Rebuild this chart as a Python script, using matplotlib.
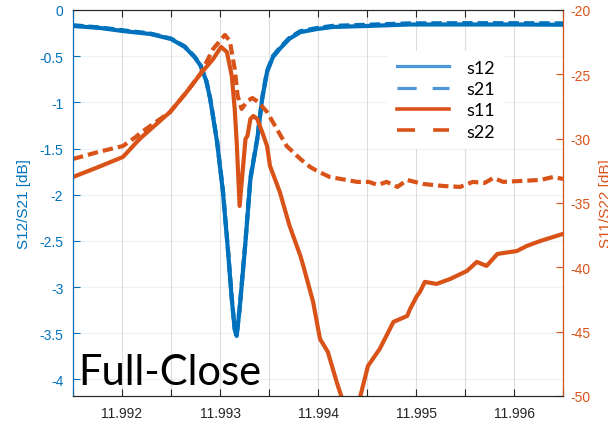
import numpy as np
import matplotlib
matplotlib.use('Agg')
import matplotlib.pyplot as plt
from matplotlib.lines import Line2D
from matplotlib.ticker import MultipleLocator, FuncFormatter

plt.rcParams['font.family'] = ['Liberation Sans', 'DejaVu Sans']
plt.rcParams['axes.unicode_minus'] = False

BLUE = '#0072BD'
ORANGE = '#D95319'
DARK = '#262626'

# transmission (left axis, dB)
f12 = [11.99150, 11.99178, 11.99201, 11.99229, 11.99250, 11.99264, 11.99274,
       11.99280, 11.99286, 11.99290, 11.99297, 11.99303, 11.99308, 11.99312,
       11.99315, 11.99317, 11.99320, 11.99326, 11.99331, 11.99338, 11.99343,
       11.99348, 11.99354, 11.99361, 11.99371, 11.99382, 11.99399, 11.99415,
       11.99450, 11.99494, 11.99545, 11.99606, 11.99650]
s12 = [-0.173, -0.195, -0.228, -0.26, -0.314, -0.40, -0.51,
       -0.60, -0.77, -0.965, -1.43, -1.97, -2.59, -3.13,
       -3.46, -3.53, -3.24, -2.51, -1.83, -1.40, -0.965,
       -0.67, -0.51, -0.42, -0.31, -0.24, -0.206, -0.184,
       -0.173, -0.157, -0.157, -0.157, -0.160]
s21 = [-0.165, -0.19, -0.22, -0.255, -0.31, -0.395, -0.505,
       -0.595, -0.765, -0.96, -1.42, -1.96, -2.58, -3.12,
       -3.45, -3.52, -3.23, -2.50, -1.82, -1.39, -0.955,
       -0.66, -0.50, -0.41, -0.30, -0.23, -0.195, -0.172,
       -0.160, -0.145, -0.143, -0.143, -0.145]

# reflection (right axis, dB)
f11 = [11.99150, 11.99176, 11.99201, 11.99218, 11.99249, 11.99266, 11.99280,
       11.99293, 11.99301, 11.99307, 11.99312, 11.99315, 11.99317, 11.99320,
       11.99326, 11.99328, 11.99331, 11.99334, 11.99338, 11.99343, 11.99348,
       11.99351, 11.99361, 11.99371, 11.99382, 11.99385, 11.99395, 11.99402,
       11.99410, 11.99419, 11.99424, 11.99433, 11.99443, 11.99451, 11.99463,
       11.99477, 11.99484, 11.99491, 11.99494, 11.99501, 11.99504, 11.99509,
       11.99521, 11.99535, 11.99552, 11.99562, 11.99572, 11.99583, 11.99603,
       11.99613, 11.99627, 11.99650]
s11 = [-32.98, -32.20, -31.42, -30.02, -27.93, -26.37, -24.97,
       -23.81, -22.87, -23.26, -25.13, -27.69, -30.26, -35.23,
       -30.02, -29.79, -28.47, -28.24, -28.47, -29.48, -30.57,
       -32.12, -34.14, -36.78, -39.11, -39.89, -42.69, -45.56,
       -46.57, -48.90, -50.07, -51.50, -50.07, -47.66, -46.34,
       -44.24, -44.01, -43.78, -43.23, -42.22, -41.91, -41.13,
       -41.29, -40.90, -40.28, -39.58, -39.89, -38.96, -38.73,
       -38.34, -37.95, -37.40]

f22 = [11.99150, 11.99176, 11.99201, 11.99214, 11.99218, 11.99249, 11.99266,
       11.99280, 11.99293, 11.99305, 11.99310, 11.99315, 11.99318, 11.99322,
       11.99328, 11.99333, 11.99339, 11.99348, 11.99358, 11.99368, 11.99382,
       11.99392, 11.99399, 11.99412, 11.99440, 11.99452, 11.99461, 11.99470,
       11.99481, 11.99491, 11.99507, 11.99528, 11.99545, 11.99558, 11.99570,
       11.99579, 11.99589, 11.99606, 11.99627, 11.99640, 11.99650]
s22 = [-31.58, -31.03, -30.57, -29.87, -29.60, -27.93, -26.37,
       -24.97, -23.03, -21.94, -22.41, -24.58, -26.68, -27.69,
       -27.07, -26.84, -27.15, -27.93, -29.25, -30.57, -31.58,
       -32.20, -32.51, -32.98, -33.36, -33.36, -33.60, -33.36,
       -33.75, -33.21, -33.52, -33.68, -33.75, -33.36, -33.44,
       -33.05, -33.36, -33.29, -33.21, -32.98, -33.13]

legend_labels = ['s12', 's21', 's11', 's22']


fig = plt.figure(figsize=(6.08, 4.31), dpi=100)
ax = fig.add_axes([0.1201, 0.0789, 0.8059, 0.8956])
ax2 = ax.twinx()

ax.plot(f12, s12, color=BLUE, lw=3.0)
ax.plot(f12, s21, color=BLUE, lw=3.0, dashes=(2.5, 1.2))
ax2.plot(f11, s11, color=ORANGE, lw=3.0)
ax2.plot(f22, s22, color=ORANGE, lw=3.0, dashes=(2.5, 1.2))

ax.set_xlim(11.9915, 11.9965)
ax.set_ylim(-4.18, 0)
ax2.set_ylim(-50, -20)

ax.xaxis.set_major_locator(MultipleLocator(0.0005))
ax.xaxis.set_major_formatter(FuncFormatter(
    lambda v, p: f"{v:.3f}" if abs(round(v * 1000) - v * 1000) < 1e-6 else ""))
ax.yaxis.set_major_locator(MultipleLocator(0.5))
ax.yaxis.set_major_formatter(FuncFormatter(lambda v, p: f"{v:g}"))
ax2.yaxis.set_major_locator(MultipleLocator(5))
ax2.yaxis.set_major_formatter(FuncFormatter(lambda v, p: f"{v:g}"))

ax.grid(axis='x', color=DARK, alpha=0.15, lw=0.8)
ax.grid(axis='y', color=BLUE, alpha=0.08, lw=0.8)
ax.set_axisbelow(True)

ax.tick_params(axis='x', direction='in', length=5, top=True, colors=DARK,
               labelsize=10, pad=7)
ax.tick_params(axis='y', direction='in', length=5, colors=BLUE,
               labelsize=10, pad=7)
ax2.tick_params(axis='y', direction='in', length=5, colors=ORANGE,
                labelsize=10, pad=5)
for a in (ax, ax2):
    a.spines['top'].set_color(DARK)
    a.spines['bottom'].set_color(DARK)
ax2.spines['left'].set_color(BLUE)
ax2.spines['right'].set_color(ORANGE)

ax.set_ylabel('S12/S21 [dB]', color=BLUE, fontsize=11, labelpad=6)
ax2.set_ylabel('S11/S22 [dB]', color=ORANGE, fontsize=11, labelpad=6,
               rotation=90)

handles = [
    Line2D([], [], color='#4d97d8', lw=2.3),
    Line2D([], [], color='#4d97d8', lw=2.3, dashes=(6, 5)),
    Line2D([], [], color=ORANGE, lw=2.6),
    Line2D([], [], color=ORANGE, lw=2.6, dashes=(5, 5)),
]
leg = ax2.legend(handles, legend_labels, loc='upper left',
                 bbox_to_anchor=(0.642, 0.895), frameon=True,
                 prop={'family': 'Lato', 'size': 13},
                 handlelength=2.9, handletextpad=0.95, labelspacing=0.3,
                 borderpad=0.5, borderaxespad=0)
leg.get_frame().set_facecolor('white')
leg.get_frame().set_edgecolor('none')
leg.get_frame().set_alpha(1)

ax2.text(0.0102, 0.031, 'Full-Close', transform=ax2.transAxes,
         family='Lato', fontsize=30, color='black', va='baseline', ha='left')

fig.savefig('out.png', dpi=100)
